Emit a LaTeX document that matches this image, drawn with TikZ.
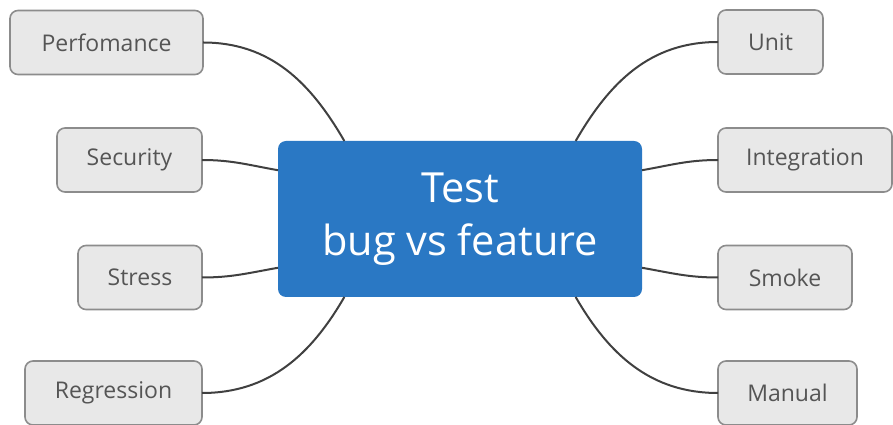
\documentclass[tikz,border=0pt]{standalone}
\usepackage{fontspec}
\setmainfont{Open Sans}
\usetikzlibrary{positioning}

\definecolor{hubblue}{RGB}{42,120,196}
\definecolor{leafgray}{RGB}{232,232,232}
\definecolor{leafline}{RGB}{140,140,140}
\definecolor{leaftext}{RGB}{85,85,85}
\definecolor{linkgray}{RGB}{64,64,64}

\tikzset{
  hub/.style={rectangle, rounded corners=8pt, fill=hubblue, text=white,
    minimum width=364pt, minimum height=156pt, outer sep=0pt,
    align=center, font=\fontsize{41.5}{53}\selectfont},
  leaf/.style={rectangle, rounded corners=8pt, fill=leafgray, draw=leafline,
    line width=1.6pt, text=leaftext, inner xsep=20pt, minimum height=64pt,
    outer sep=0pt, font=\fontsize{23}{27}\selectfont},
  link/.style={draw=linkgray, line width=2pt}
}

\begin{document}
\begin{tikzpicture}[x=1pt,y=1pt]
    \useasboundingbox (0,0) rectangle (893,425);

    % centre topic
    \node[hub] (main) at (460,206) {Test\\bug vs feature};

    % left branches
    \node[leaf, minimum width=193pt] (perf) at (106.5,382.5) {Perfomance};
    \node[leaf, minimum width=145pt] (sec) at (129.5,265) {Security};
    \node[leaf, minimum width=124pt] (stress) at (140,147.5) {Stress};
    \node[leaf, minimum width=177pt] (regr) at (113.5,32) {Regression};

    % right branches
    \node[leaf, minimum width=105pt] (unit) at (770.5,383) {Unit};
    \node[leaf, minimum width=174pt] (integ) at (805,265) {Integration};
    \node[leaf, minimum width=134pt] (smoke) at (785,147.5) {Smoke};
    \node[leaf, minimum width=139pt] (manual) at (787.5,32) {Manual};

    % links
    \draw[link] (perf.east) to[out=0, in=120] (main.146);
    \draw[link] (sec.east) to[out=0, in=170] (main.165);
    \draw[link] (stress.east) to[out=0, in=190] (main.195);
    \draw[link] (regr.east) to[out=0, in=240] (main.214);

    \draw[link] (main.34) to[out=60, in=180] (unit.west);
    \draw[link] (main.15) to[out=10, in=180] (integ.west);
    \draw[link] (main.-15) to[out=-10, in=180] (smoke.west);
    \draw[link] (main.-34) to[out=-60, in=180] (manual.west);
\end{tikzpicture}
\end{document}
